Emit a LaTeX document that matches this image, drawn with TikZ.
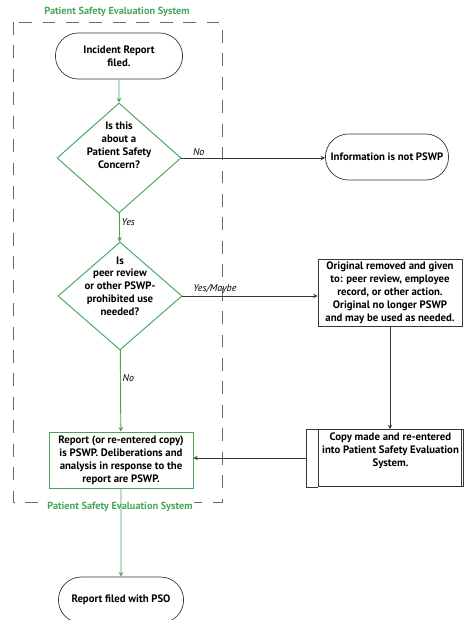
\documentclass[tikz,border=0pt]{standalone}
\usepackage{fontspec}
\setmainfont{PT Sans}
\usepackage{tikz}
\usetikzlibrary{shapes.geometric,shapes.misc}
\definecolor{psesgreen}{RGB}{70,165,90}
\definecolor{psesframe}{RGB}{95,110,98}
\definecolor{flowgray}{RGB}{55,55,55}

\begin{document}
\begin{tikzpicture}[x=0.03cm, y=-0.03cm, >=stealth,
  every node/.style={font=\fontsize{9.2}{11}\selectfont\bfseries, align=center},
  terminal/.style={draw=flowgray, rounded rectangle, minimum width=4.05cm, minimum height=1.38cm, line width=0.6pt},
  decision/.style={draw=psesgreen, diamond, inner sep=-14pt, minimum width=3.72cm, minimum height=3.3cm, line width=0.8pt},
  process/.style={draw=flowgray, rectangle, inner sep=2pt, line width=0.6pt},
  syslabel/.style={text=psesgreen, font=\fontsize{8.8}{10}\selectfont\bfseries, inner sep=1pt},
  answer/.style={font=\fontsize{8.5}{10}\selectfont\itshape, inner sep=1.5pt},
  greenflow/.style={->, draw=psesgreen, line width=0.8pt},
  grayflow/.style={->, draw=flowgray, line width=0.7pt}]
\useasboundingbox (0,0) rectangle (464,620);
% system boundary
\draw[psesframe, line width=0.75pt, dash pattern=on 11pt off 9pt] (13,22) rectangle (222,502);
\node[syslabel] (systop) at (117,12) {Patient Safety Evaluation System};
\node[syslabel, fill=white] (sysbot) at (120,507) {Patient Safety Evaluation System};

% nodes
\node[terminal] (start) at (119,56) {Incident Report\\filed.};
\node[decision] (d1) at (119,158) {Is this\\about a\\Patient Safety\\Concern?\\[11pt]};
\node[terminal, minimum width=3.93cm] (info) at (387,157) {Information is not PSWP};
\node[decision, minimum height=3.24cm] (d2) at (120,296) {Is\\peer review\\or other PSWP-\\prohibited use\\needed?\\[6pt]};
\node[process, minimum width=4.32cm, minimum height=2.01cm] (orig) at (390,293) {Original removed and given\\to: peer review, employee\\record, or other action.\\Original no longer PSWP\\and may be used as needed.};
\node[process, minimum width=4.35cm, minimum height=1.71cm] (copy) at (390.5,458) {Copy made and re-entered\\into Patient Safety Evaluation\\System.\\[3pt]};
% side strip of the copy box
\draw[flowgray, line width=0.6pt] (copy.north west) -- ++(-11,0) |- (copy.south west);
\draw[flowgray, line width=0.6pt] ([xshift=-0.06cm]copy.north east) -- ([xshift=-0.06cm]copy.south east);
\node[process, draw=psesgreen, minimum width=4.32cm, minimum height=1.68cm] (report) at (121,460) {Report (or re-entered copy)\\is PSWP. Deliberations and\\analysis in response to the\\report are PSWP.};
\node[terminal, minimum width=3.99cm] (final) at (121,600) {Report filed with PSO};

% connectors
\draw[greenflow] (start) -- (d1);
\draw[grayflow] (d1.east) -- node[answer, pos=0.12, above]{No} (d1.east -| info.west);
\draw[greenflow] (d1) -- node[answer, pos=0.3, right]{Yes} (d2);
\draw[grayflow] (d2.east) -- node[answer, pos=0.24, above]{Yes/Maybe} (d2.east -| orig.west);
\draw[grayflow] (orig.south) -- (orig.south |- copy.north);
\draw[greenflow] (d2) -- node[answer, pos=0.34, right]{No} (report);
\draw[grayflow] ([xshift=-0.33cm]copy.west) -- (copy.west -| report.east);
\draw[greenflow] (report) -- (final);
\end{tikzpicture}
\end{document}
